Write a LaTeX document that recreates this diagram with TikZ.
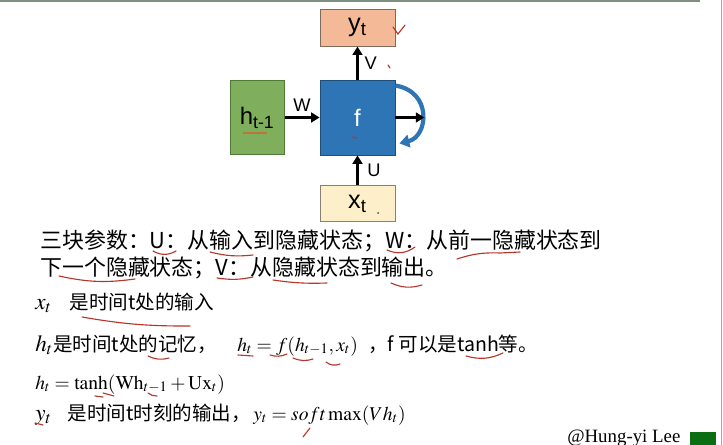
\documentclass[tikz,border=0pt]{standalone}
\usepackage{mathptmx}
\usepackage[no-math]{fontspec}
\setmainfont{Liberation Sans}
\newfontfamily\cjk{Noto Sans CJK SC}
\newfontfamily\timesfont{Liberation Serif}
\usetikzlibrary{positioning,arrows.meta}

\definecolor{ytfill}{HTML}{F4B996}
\definecolor{ytline}{HTML}{7F6A5E}
\definecolor{ffill}{HTML}{2E75B6}
\definecolor{fline}{HTML}{1F4E79}
\definecolor{hfill}{HTML}{7FAE5C}
\definecolor{hline}{HTML}{4F7A36}
\definecolor{xfill}{HTML}{FCEFC9}
\definecolor{xline}{HTML}{8A8070}
\definecolor{scrib}{HTML}{B8352B}
\definecolor{hunder}{HTML}{B8763A}
\definecolor{frameline}{HTML}{7E8F80}
\definecolor{credgreen}{HTML}{0B6E12}
\newcommand{\leadvar}[1]{{\fontsize{16.5}{18}\selectfont$#1$}}

\begin{document}
\begin{tikzpicture}[x=0.025cm,y=-0.025cm,->,>={Triangle[length=6pt,width=7pt]},
  box/.style={draw,rectangle,line width=0.6pt,inner sep=0pt},
  wire/.style={line width=2pt},
  lbl/.style={font=\fontsize{13}{15}\selectfont,inner sep=1pt},
  big/.style={anchor=base west,inner sep=0pt,font=\cjk\fontsize{15.6}{18}\selectfont},
  small/.style={anchor=base west,inner sep=0pt,font=\cjk\fontsize{13.9}{17}\selectfont},
  scribble/.style={-,draw=scrib,line width=0.8pt,line cap=round}]
\useasboundingbox (0,0) rectangle (723,445);
\fill[white] (0,0) rectangle (723,445);
\draw[-,frameline,line width=1.5pt] (0,1) -- (700,1);
\draw[-,gray!70,line width=1pt] (721.5,0) -- (721.5,445);

% the cell and its neighbours
\node[box,fill=ffill,draw=fline,minimum width=1.875cm,minimum height=1.875cm,
  text=white,font=\fontsize{17}{19}\selectfont] (f) at (357.5,117.5) {f};
\node[box,fill=ytfill,draw=ytline,minimum width=1.875cm,minimum height=0.925cm,
  font=\fontsize{18}{20}\selectfont,above=0.825cm of f] (y) {y\textsubscript{t}};
\node[box,fill=hfill,draw=hline,minimum width=1.35cm,minimum height=1.85cm,
  font=\fontsize{17}{19}\selectfont,left=0.875cm of f] (h) {h\textsubscript{t-1}};
\node[box,fill=xfill,draw=xline,minimum width=1.875cm,minimum height=0.9cm,
  font=\fontsize{18}{20}\selectfont,below=0.75cm of f] (x) {x\textsubscript{t}};
\coordinate[right=0.72cm of f] (out);

\draw[ffill,line width=3pt,-{Triangle[length=7pt,width=9pt]}]
  ([yshift=-0.15cm]f.north east) .. controls +(0.925cm,-0.15cm) and +(0.725cm,0.175cm)
  .. ([xshift=0.1cm,yshift=0.3cm]f.south east);

\path[wire]
(h) edge node[lbl,above=2pt] {W} (f)
(f) edge node[lbl,right=3pt] {V} (y)
    edge (out)
(x) edge node[lbl,right=5pt] {U} (f);

% text
\node[big] (l1) at (40,249) {三块参数：U：从输入到隐藏状态；W：从前一隐藏状态到};
\node[big] (l2) at (40,276) {下一个隐藏状态；V：从隐藏状态到输出。};
\node[small] (l3) at (35,309.5) {\leadvar{x_t}\hspace{0.45cm}是时间t处的输入};
\node[small] (l4) at (35,351) {\leadvar{h_t}是时间t处的记忆，};
\node[small] (l4m) at (237,351) {$h_t = f(h_{t-1}, x_t)$};
\node[small] (l4e) at (368,351) {，f 可以是tanh等。};
\node[small] (l5) at (35,389) {$h_t = \tanh(\mathrm{Wh}_{t-1}+\mathrm{Ux}_t)$};
\node[small] (l6) at (35,420) {\leadvar{y_t}\hspace{0.4cm}是时间t时刻的输出，};
\node[small] (l6m) at (253,420) {$y_t = soft\max(Vh_t)$};
\node[anchor=base west,inner sep=0pt,font=\timesfont\fontsize{13.4}{15}\selectfont] (credit) at (567,442) {@Hung-yi Lee};
\fill[credgreen] (690,432) rectangle (716,445);

% pen marks
\draw[scribble] (393,27) -- (398,34) -- (405,25);
\draw[scribble] (388,65) -- (390,68);
\draw[scribble] (352,137) -- (357,138);
\draw[-,hunder,line width=1.5pt] (243,133) -- (267,133);
\fill[black!70] (378,213) circle (1);
\draw[scribble] (153,251) to[bend right] (176,251);
\draw[scribble] (210,252) to[bend right=10] (253,255);
\draw[scribble] (387,250) to[bend right=30] (415,247);
\draw[scribble] (457,259) to[bend left=10] (500,253) -- (520,252);
\draw[scribble] (59,276) to[bend right=10] (135,279);
\draw[scribble] (217,278) to[bend right=10] (253,277);
\draw[scribble] (273,280) to[bend right=5] (327,283);
\draw[scribble] (391,283) to[bend right=20] (422,285);
\draw[scribble] (82,317) to[bend right=5] (190,326);
\draw[scribble] (148,356) to[bend right=20] (169,358);
\draw[scribble] (238,355) -- (253,356);
\draw[scribble] (270,355) to[bend right=20] (287,354);
\draw[scribble] (293,358) to[bend right=20] (313,359);
\draw[scribble] (326,362) to[bend right=30] (340,364);
\draw[scribble] (466,356) to[bend right=20] (503,353);
\draw[scribble] (95,396) -- (103,397);
\draw[scribble] (103,393) -- (114,396);
\draw[scribble] (148,393) to[bend right=20] (157,396);
\draw[scribble] (35,423) -- (43,425);
\draw[scribble] (303,437) -- (310,428);
\end{tikzpicture}
\end{document}
